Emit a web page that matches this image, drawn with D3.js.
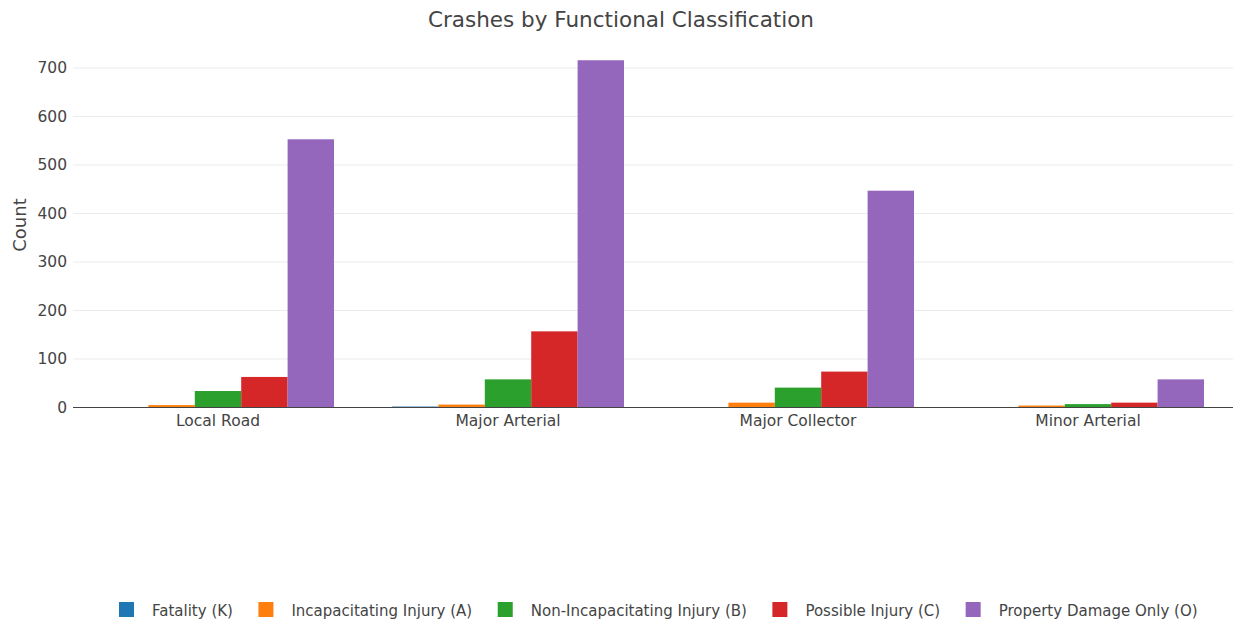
<!DOCTYPE html>
<html><head><meta charset="utf-8">
<script src="https://cdn.jsdelivr.net/npm/d3@7"></script>
<style>body{margin:0;background:#fff;} svg{display:block;font-family:"DejaVu Sans",sans-serif;}</style>
</head><body><svg id="c" width="1235" height="622"></svg>
<script>
const categories = ["Local Road","Major Arterial","Major Collector","Minor Arterial"];
const seriesNames = ["Fatality (K)","Incapacitating Injury (A)","Non-Incapacitating Injury (B)","Possible Injury (C)","Property Damage Only (O)"];
const colors = ["#1f77b4","#ff7f0e","#2ca02c","#d62728","#9467bd"];
const fatality = [0,2,0,1];
const incapacitating = [5,6,10,4];
const nonIncapacitating = [34,58,41,7];
const possible = [63,157,74,10];
const propertyDamage = [553,716,447,58];
const yTicks = [0,100,200,300,400,500,600,700];
const seriesValues = [fatality,incapacitating,nonIncapacitating,possible,propertyDamage];

const svg = d3.select("#c");
const L=73,R=1233,T=50,B=407.5;
const x = d3.scaleBand().domain(categories).range([L,R]).paddingInner(0.2).paddingOuter(0.1);
const xs = d3.scaleBand().domain(seriesNames).range([0,x.bandwidth()]);
const y = d3.scaleLinear().domain([0,700]).range([B,B-339.5]);

// grid
svg.append("g").selectAll("line").data(yTicks.filter(d=>d>0)).join("line")
 .attr("x1",L).attr("x2",R).attr("y1",d=>y(d)).attr("y2",d=>y(d))
 .attr("stroke","#ebebeb").attr("stroke-width",1);

// bars
const g = svg.append("g");
seriesNames.forEach((s,i)=>{
  g.selectAll(null).data(categories).join("rect")
   .attr("x",c=>x(c)+xs(s)).attr("width",xs.bandwidth())
   .attr("y",(c,j)=>y(seriesValues[i][j])).attr("height",(c,j)=>y(0)-y(seriesValues[i][j]))
   .attr("fill",colors[i]);
});

// zero line
svg.append("line").attr("x1",L).attr("x2",R).attr("y1",y(0)).attr("y2",y(0)).attr("stroke","#444").attr("stroke-width",1);

// y axis
const ya = svg.append("g").attr("transform",`translate(${L},0)`).call(d3.axisLeft(y).tickValues(yTicks).tickSize(0).tickPadding(6));
ya.select(".domain").remove();
ya.selectAll("text").attr("font-size",15.5).attr("fill","#444").attr("font-family","DejaVu Sans");

// x axis
const xa = svg.append("g").attr("transform",`translate(0,${B})`).call(d3.axisBottom(x).tickSize(0).tickPadding(7));
xa.select(".domain").remove();
xa.selectAll("text").attr("font-size",15.5).attr("fill","#444").attr("font-family","DejaVu Sans");

// title
svg.append("text").attr("x",621).attr("y",26.5).attr("text-anchor","middle").attr("font-size",21.5).attr("fill","#444").text("Crashes by Functional Classification");
// y label
svg.append("text").attr("transform","translate(26,225) rotate(-90)").attr("text-anchor","middle").attr("font-size",18).attr("fill","#444").text("Count");

// legend
const lg = svg.append("g");
let xpos = 119;
seriesNames.forEach((s,i)=>{
  lg.append("rect").attr("x",xpos).attr("y",602).attr("width",15).attr("height",15).attr("fill",colors[i]);
  const t = lg.append("text").attr("x",xpos+33).attr("y",616).attr("font-size",15).attr("fill","#444").text(s);
  xpos += 33 + t.node().getComputedTextLength() + 25.5;
});
</script></body></html>
